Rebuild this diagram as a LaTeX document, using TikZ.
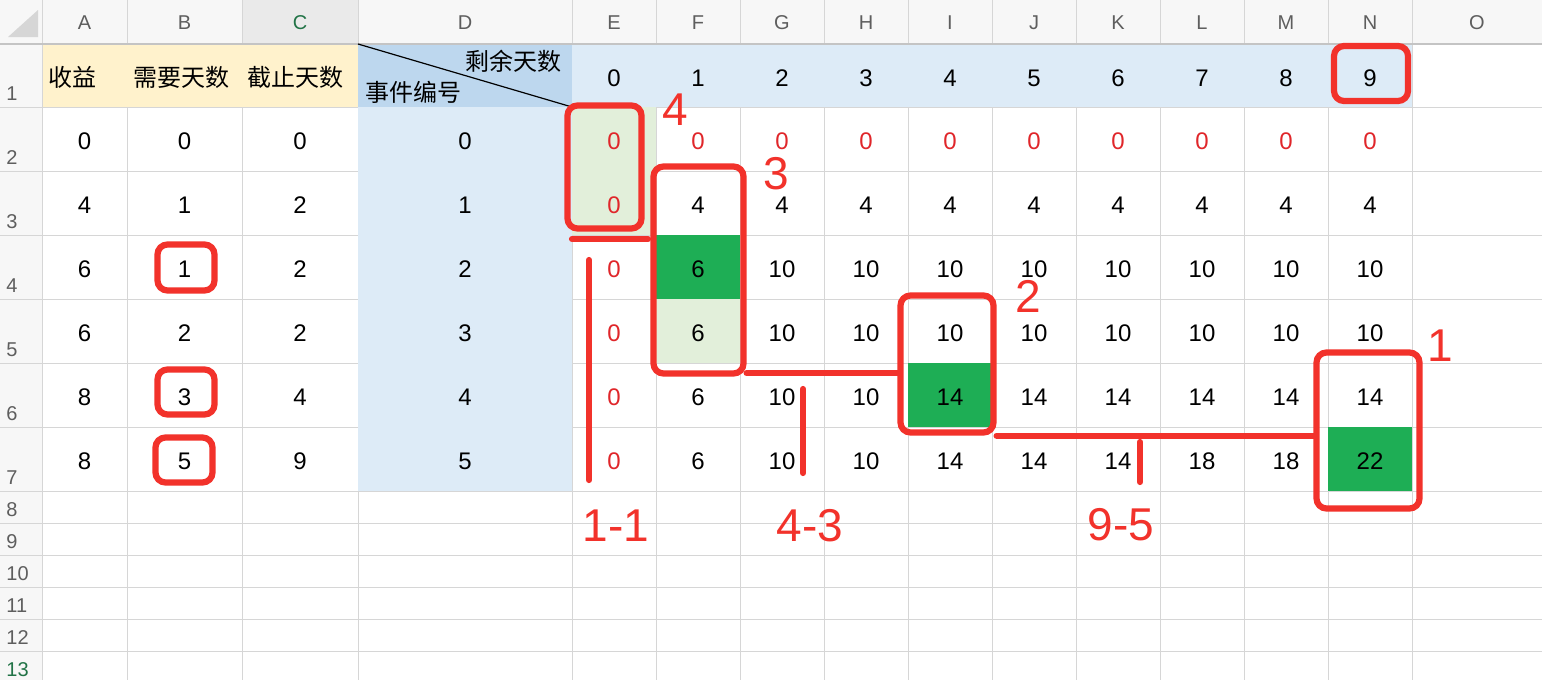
\documentclass[tikz,border=0pt]{standalone}
\usepackage{fontspec}
\setmainfont{Liberation Sans}
\newfontfamily\cjk{Noto Sans CJK SC}
\usetikzlibrary{calc,fit}

\definecolor{headbg}{HTML}{F7F7F7}
\definecolor{headsel}{HTML}{EAEAEA}
\definecolor{headline}{HTML}{C4C4C4}
\definecolor{headtxt}{HTML}{5E5E5E}
\definecolor{selgreen}{HTML}{217346}
\definecolor{gridc}{HTML}{D6D6D6}
\definecolor{yellowbg}{HTML}{FFF2CC}
\definecolor{bluedark}{HTML}{BDD7EE}
\definecolor{bluelight}{HTML}{DDEBF7}
\definecolor{greenlight}{HTML}{E2EFDA}
\definecolor{greendark}{HTML}{1EAE55}
\definecolor{zerored}{HTML}{E0262A}
\definecolor{annored}{HTML}{F2322B}

\begin{document}
\begin{tikzpicture}[x=0.5pt, y=-0.5pt,
    gridline/.style={draw=gridc, line width=0.5pt},
    hdr/.style={font=\fontsize{10}{12}\selectfont, text=headtxt, anchor=base, inner sep=0pt},
    cell/.style={font=\fontsize{12}{14}\selectfont, anchor=base, inner sep=0pt},
    zero/.style={cell, text=zerored},
    redbox/.style={draw=annored, line width=3.1pt, rounded corners=5pt, inner sep=0pt},
    redline/.style={draw=annored, line width=3.1pt, line cap=round},
    note/.style={font=\fontsize{23}{26}\selectfont, text=annored, inner sep=0pt}]
    \useasboundingbox (0,0) rectangle (1542,680);
    \fill[white] (0,0) rectangle (1542,680);
    \fill[headbg] (0,0) rectangle (1542,44);
    \fill[headbg] (0,0) rectangle (42,680);
    \fill[headsel] (242,0) rectangle (358,44);
    \fill[gridc] (8,37) -- (38,37) -- (38,10) -- cycle;
    \foreach \x in {42,127,242,358,572,656,...,1412}
        \draw[gridline] (\x,0) -- (\x,680);
    \foreach \y in {107,171,235,299,363,427,491,523,555,587,619,651}
        \draw[gridline] (0,\y) -- (1542,\y);
    % cell fills go over the grid
    \fill[yellowbg] (42.5,44) rectangle (358,107);
    \fill[bluedark] (358,44) rectangle (572,107);
    \fill[bluelight] (572,44) rectangle (1412,107);
    \fill[bluelight] (358,107) rectangle (572,491);
    \fill[greenlight] (572,107) rectangle (656,235);
    \fill[greenlight] (656,299) rectangle (740,363);
    \fill[greendark] (656,235) rectangle (740,299);
    \fill[greendark] (908,363) rectangle (992,427);
    \fill[greendark] (1328,427) rectangle (1412,491);
    \draw[headline, line width=1pt] (0,44) -- (1542,44);
    \draw[line width=0.6pt] (358,44) -- (572,107);

    \foreach \l/\x in {A/84.5,B/184.5,D/465,O/1477}
        \node[hdr] (col\l) at (\x,29.5) {\l};
    \node[hdr, text=selgreen] (colC) at (300,29.5) {C};
    \foreach \l [count=\i from 0] in {E,...,N}
        \node[hdr] (col\l) at ({614+84*\i},29.5) {\l};
    \foreach \r/\y in {1/100.5,2/164.5,3/228.5,4/292.5,5/356.5,6/420.5,7/484.5,8/516.5,9/548.5,10/580.5,11/612.5,12/644.5}
        \node[hdr, anchor=base west] (row\r) at (6,\y) {\r};
    \node[hdr, anchor=base west, text=selgreen] (row13) at (6,676.5) {13};

    \node[cell, anchor=base west] (hGain) at (48,86) {\cjk 收益};
    \node[cell, anchor=base west] (hNeed) at (133,86) {\cjk 需要天数};
    \node[cell, anchor=base west] (hDue) at (247,86) {\cjk 截止天数};
    \node[cell, anchor=base east] (hLeft) at (562,70) {\cjk 剩余天数};
    \node[cell, anchor=base west] (hEvent) at (365,101) {\cjk 事件编号};
    \foreach \v in {0,...,9}
        \node[cell] (day\v) at ({614+84*\v},86) {\v};

    \foreach \r/\a/\b/\c/\d in {2/0/0/0/0,3/4/1/2/1,4/6/1/2/2,5/6/2/2/3,6/8/3/4/4,7/8/5/9/5} {
        \node[cell] (a\r) at (84.5,{149+64*(\r-2)}) {\a};
        \node[cell] (b\r) at (184.5,{149+64*(\r-2)}) {\b};
        \node[cell] (c\r) at (300,{149+64*(\r-2)}) {\c};
        \node[cell] (d\r) at (465,{149+64*(\r-2)}) {\d};
        \node[zero] (e\r) at (614,{149+64*(\r-2)}) {0};
    }
    \foreach \c in {1,...,9}
        \node[zero] (v2-\c) at ({614+84*\c},149) {0};
    \foreach \r/\vals in {3/{4,4,4,4,4,4,4,4,4},4/{6,10,10,10,10,10,10,10,10},
            5/{6,10,10,10,10,10,10,10,10},6/{6,10,10,14,14,14,14,14,14},
            7/{6,10,10,14,14,14,18,18,22}}
        \foreach \v [count=\c] in \vals
            \node[cell] (v\r-\c) at ({614+84*\c},{149+64*(\r-2)}) {\v};

    \node[redbox, fit={(1334,46) (1408,101)}] (box9) {};
    \node[redbox, fit={(567.5,105.5) (641.5,228.5)}] (box4) {};
    \node[redbox, fit={(653.5,166.5) (743.5,373.5)}] (box3) {};
    \node[redbox, fit={(900.5,295.5) (993.5,432.5)}] (box2) {};
    \node[redbox, fit={(1316.5,352.5) (1419.5,508.5)}] (box1) {};
    \node[redbox, fit={(157.5,244.5) (214.5,290.5)}] (needB4) {};
    \node[redbox, fit={(157.5,369.5) (214.5,414.5)}] (needB6) {};
    \node[redbox, fit={(155.5,437.5) (212.5,482.5)}] (needB7) {};
    \coordinate (c3) at ([yshift=1.75pt]box3.south east);
    \draw[redline] (c3) -- (c3 -| box2.west);
    \draw[redline] (box2.south east) -- (box2.south east -| box1.west);
    \draw[redline] (572,239) -- (648,239);
    \draw[redline] (589,260) -- (589,480);
    \draw[redline] (803,389) -- (803,473);
    \draw[redline] (1140,442) -- (1140,482);
    \node[note] (n4) at (675,110) {4};
    \node[note] (n3) at (776,174) {3};
    \node[note] (n2) at (1028,296) {2};
    \node[note] (n1) at (1440,346) {1};
    \node[note] (n11) at (616,526) {1-1};
    \node[note] (n43) at (810,526) {4-3};
    \node[note] (n95) at (1121,525) {9-5};
\end{tikzpicture}
\end{document}
